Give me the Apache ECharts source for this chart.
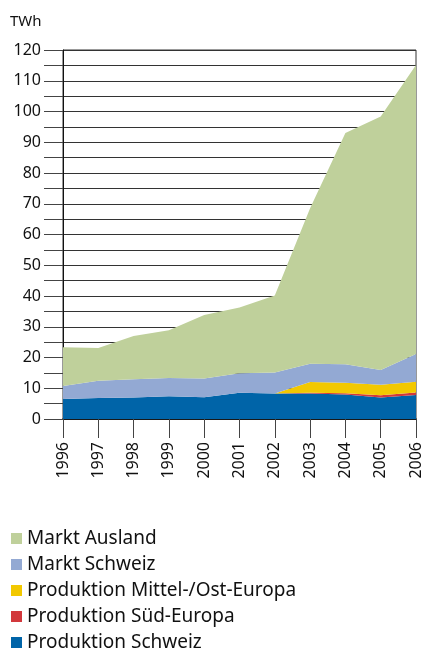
<!DOCTYPE html>
<html>
<head>
<meta charset="utf-8">
<script src="https://cdn.jsdelivr.net/npm/echarts@6/dist/echarts.min.js"></script>
<style>
  html, body { margin: 0; padding: 0; background: #fff; }
  #chart { width: 424px; height: 651px; }
</style>
</head>
<body>
<div id="chart"></div>
<script>
// Jahre
const years = ['1996', '1997', '1998', '1999', '2000', '2001', '2002', '2003', '2004', '2005', '2006']
// TWh, gestapelt von unten nach oben
const prodSchweiz = [6.5, 6.8, 7.0, 7.4, 7.1, 8.5, 8.3, 8.3, 8.0, 7.0, 7.8]
const prodSued = [0, 0, 0, 0, 0, 0, 0, 0.2, 0.4, 0.7, 0.8]
const prodMittelOst = [0, 0, 0, 0, 0, 0, 0, 3.5, 3.4, 3.4, 3.5]
const marktSchweiz = [4.2, 5.6, 5.9, 5.9, 6.1, 6.4, 6.8, 6.0, 6.0, 4.8, 9.0]
const marktAusland = [12.6, 10.7, 14.1, 15.6, 20.6, 21.4, 25.1, 50.5, 75.2, 82.5, 94.0]

const font = 'Noto Sans'
const chart = echarts.init(document.getElementById('chart'))

function area (name, data, color) {
  return {
    name: name,
    type: 'line',
    stack: 'total',
    data: data,
    symbol: 'none',
    lineStyle: { width: 0 },
    areaStyle: { color: color, opacity: 1 },
    itemStyle: { color: color },
    silent: true
  }
}

const option = {
  animation: false,
  textStyle: { fontFamily: font },
  title: {
    text: 'TWh',
    left: 5,
    top: 9,
    textStyle: { fontFamily: font, fontSize: 15, fontWeight: 'normal', color: '#111' }
  },
  legend: {
    orient: 'vertical',
    left: 6,
    top: 524,
    height: 127,
    icon: 'rect',
    itemWidth: 11,
    itemHeight: 11,
    itemGap: 7,
    selectedMode: false,
    textStyle: { fontFamily: font, fontSize: 19, color: '#111' },
    data: ['Markt Ausland', 'Markt Schweiz', 'Produktion Mittel-/Ost-Europa', 'Produktion Süd-Europa', 'Produktion Schweiz']
  },
  grid: {
    left: 63,
    right: 7,
    top: 50,
    bottom: 232,
    show: true,
    borderColor: '#333',
    borderWidth: 1
  },
  xAxis: {
    type: 'category',
    data: years,
    boundaryGap: false,
    axisLine: { lineStyle: { color: '#111', width: 1.5 } },
    axisTick: { length: 19, lineStyle: { color: '#444' } },
    axisLabel: { rotate: 90, margin: 23, fontSize: 16, color: '#111', fontFamily: font }
  },
  yAxis: {
    type: 'value',
    min: 0,
    max: 120,
    interval: 5,
    axisLine: { show: true, lineStyle: { color: '#111' } },
    axisTick: { show: true, length: 19, lineStyle: { color: '#444' } },
    axisLabel: {
      margin: 22,
      fontSize: 16,
      color: '#111',
      fontFamily: font,
      formatter: v => (v % 10 === 0 ? String(v) : '')
    },
    splitLine: { show: true, lineStyle: { color: '#333', width: 1 } }
  },
  series: [
    area('Produktion Schweiz', prodSchweiz, '#0064a8'),
    area('Produktion Süd-Europa', prodSued, '#d2383c'),
    area('Produktion Mittel-/Ost-Europa', prodMittelOst, '#f2c800'),
    area('Markt Schweiz', marktSchweiz, '#93a9d3'),
    area('Markt Ausland', marktAusland, '#bfd09b')
  ]
}
chart.setOption(option)
</script>
</body>
</html>
